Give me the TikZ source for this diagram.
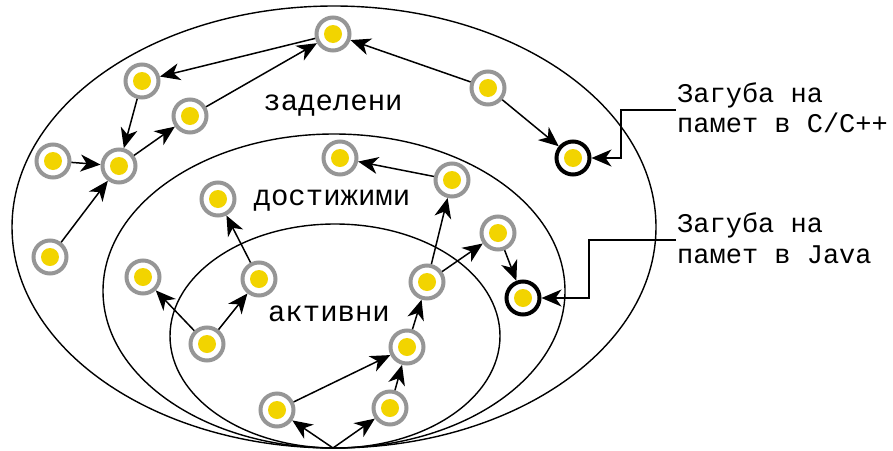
\documentclass[tikz,border=0pt]{standalone}
\usepackage{fontspec}
\newfontfamily\labfont{Liberation Mono}
\usetikzlibrary{arrows.meta}
\definecolor{ringgray}{RGB}{150,150,150}
\definecolor{dotyellow}{RGB}{242,212,0}
\tikzset{
  obj/.style={circle, draw=ringgray, line width=4pt, fill=white,
    minimum size=33pt, inner sep=0pt,
    path picture={\fill[dotyellow] (path picture bounding box.center) circle (9pt);}},
  leak/.style={obj, draw=black},
  headtip/.tip={Stealth[length=20pt,width=17pt,inset=6pt]},
  link/.style={line width=1.5pt, arrows={-headtip}},
  region/.style={line width=1.4pt},
  setname/.style={font=\labfont\fontsize{29}{32}\selectfont, inner sep=0pt, anchor=base},
  note/.style={font=\labfont\fontsize{27}{30}\selectfont, inner sep=0pt, anchor=base west}
}
\begin{document}
\begin{tikzpicture}[x=1pt,y=-1pt]
\useasboundingbox (0,0) rectangle (893,450);

% nested object sets
\draw[region] (334,227) ellipse [x radius=322pt, y radius=221pt];
\draw[region] (334,291) ellipse [x radius=231pt, y radius=157pt];
\draw[region] (335,336) ellipse [x radius=165pt, y radius=112pt];

% set names
\node[setname] (allocated) at (333,110) {заделени};
\node[setname] (reachable) at (332,205) {достижими};
\node[setname] (active)    at (329,321) {активни};

% objects
\coordinate (root) at (333,448);
\node[obj] (n1)  at (333,34)  {};
\node[obj] (n2)  at (142,81)  {};
\node[obj] (n3)  at (190,116) {};
\node[obj] (n4)  at (53,161)  {};
\node[obj] (n5)  at (119,166) {};
\node[obj] (n6)  at (50,257)  {};
\node[obj] (n7)  at (488,88)  {};
\node[leak] (n8) at (573,158) {};
\node[obj] (n9)  at (340,158) {};
\node[obj] (n10) at (452,180) {};
\node[obj] (n11) at (218,199) {};
\node[obj] (n12) at (498,233) {};
\node[obj] (n13) at (143,277) {};
\node[obj] (n14) at (259,279) {};
\node[obj] (n15) at (427,282) {};
\node[leak] (n16) at (523,298) {};
\node[obj] (n17) at (207,344) {};
\node[obj] (n18) at (407,347) {};
\node[obj] (n19) at (277,410) {};
\node[obj] (n20) at (390,408) {};

% references
\draw[link] (n7) -- (n1);
\draw[link] (n1) -- (n2);
\draw[link] (n2) -- (n5);
\draw[link] (n4) -- (n5);
\draw[link] (n6) -- (n5);
\draw[link] (n5) -- (n3);
\draw[link] (n3) -- (n1);
\draw[link] (n7) -- (n8);
\draw[link] (n10) -- (n9);
\draw[link] (n15) -- (n10);
\draw[link] (n15) -- (n12);
\draw[link] (n12) -- (n16);
\draw[link] (n18) -- (n15);
\draw[link] (n19) -- (n18);
\draw[link] (n20) -- (n18);
\draw[link] (root) -- (n19);
\draw[link] (root) -- (n20);
\draw[link] (n17) -- (n13);
\draw[link] (n17) -- (n14);
\draw[link] (n14) -- (n11);

% callouts
\node[note] (cleak1) at (677,102) {Загуба на};
\node[note] (cleak2) at (677,132) {памет в C/C++};
\node[note] (jleak1) at (677,232) {Загуба на};
\node[note] (jleak2) at (677,263) {памет в Java};
\coordinate (cpin) at (676,110);
\coordinate (jpin) at (676,240);
\draw[link] (cpin) -- (621,110) |- (n8);
\draw[link] (jpin) -- (589,240) |- (n16);
\end{tikzpicture}
\end{document}
